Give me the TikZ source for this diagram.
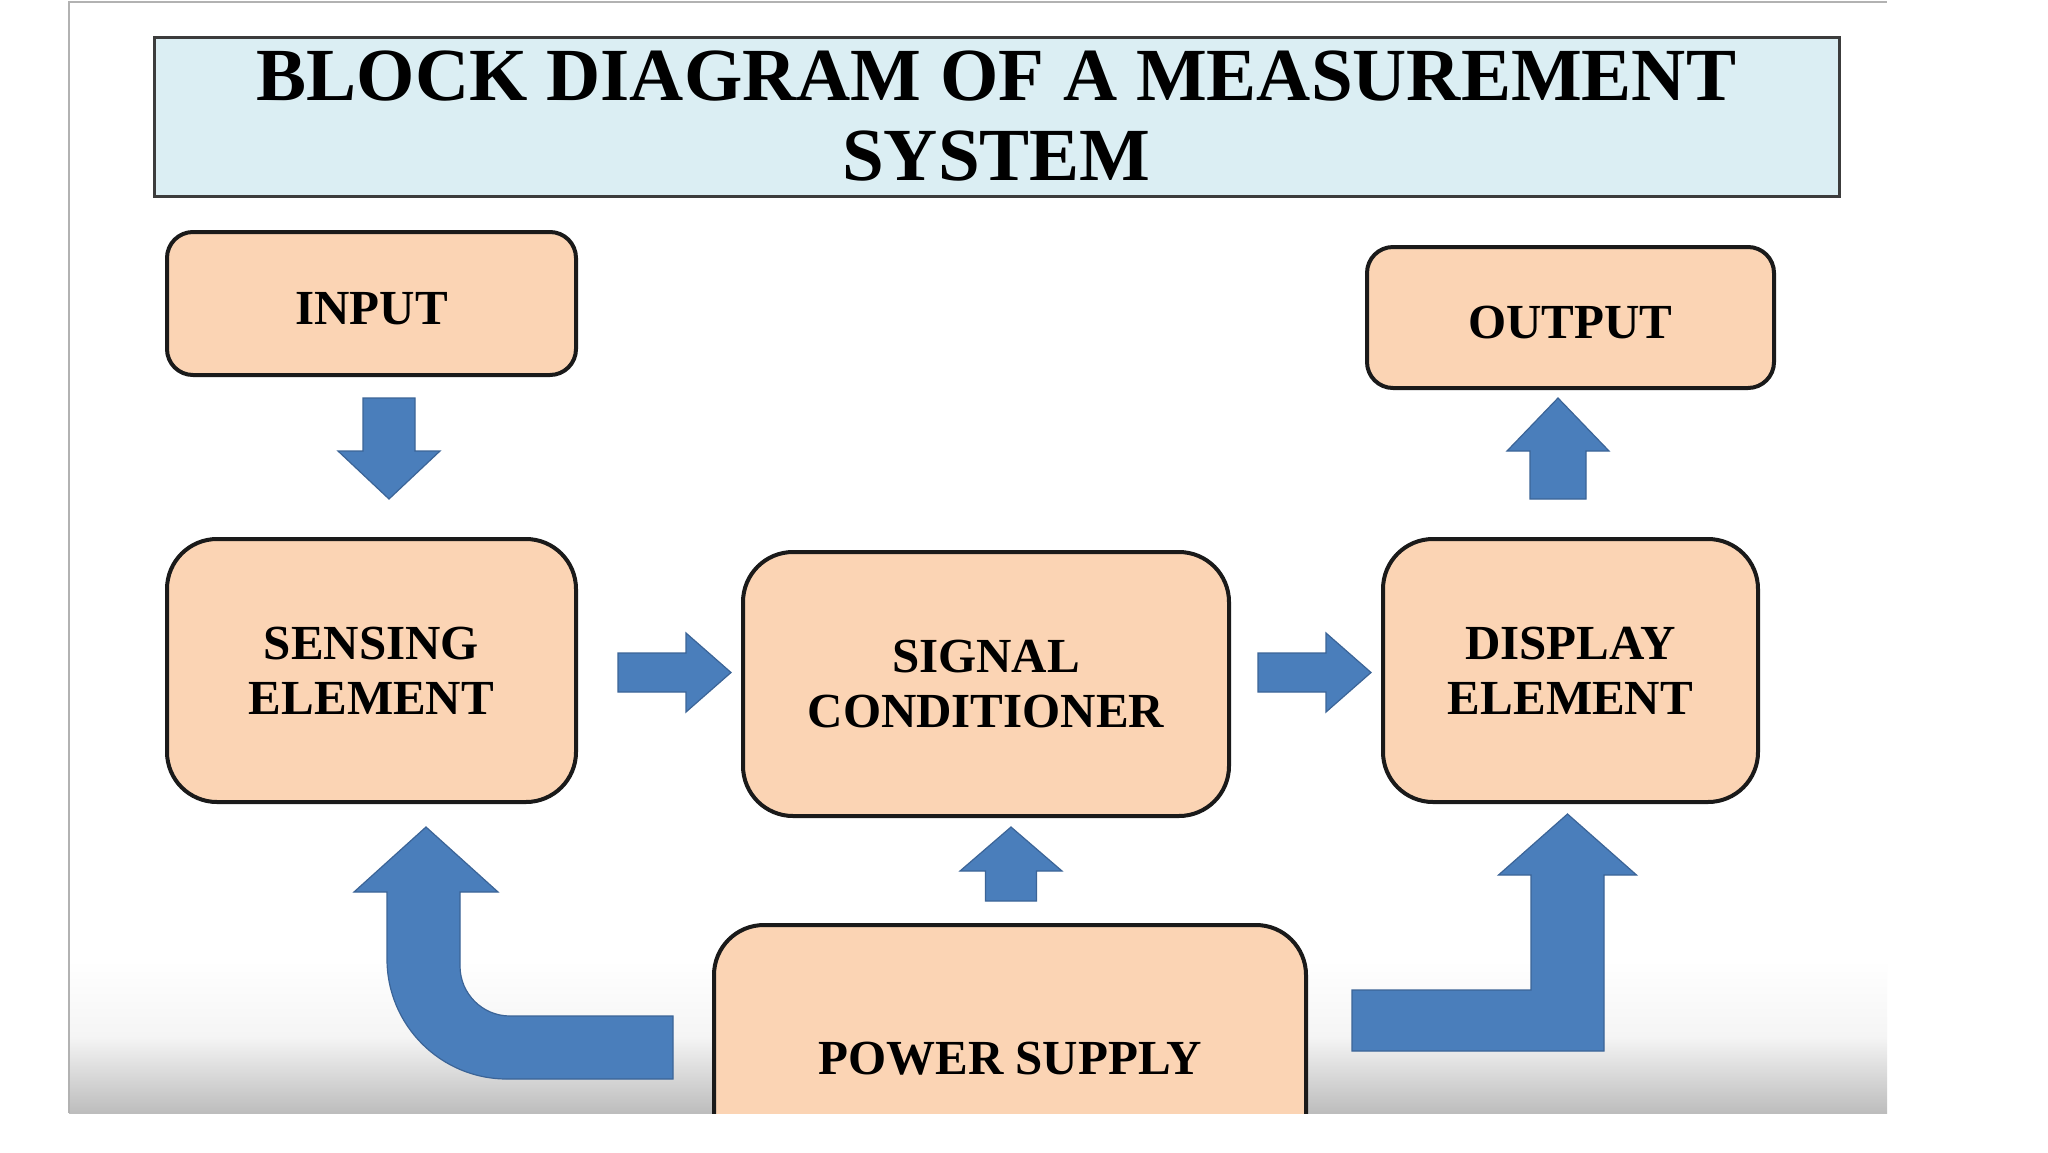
\documentclass[tikz,border=0pt]{standalone}
\usepackage{fontspec}
\setmainfont{Liberation Serif}
\usetikzlibrary{calc}
\definecolor{peach}{HTML}{FBD4B4}
\definecolor{titlebg}{HTML}{DBEEF3}
\definecolor{titleedge}{HTML}{3C3C3C}
\definecolor{arrowblue}{HTML}{4A7EBB}
\definecolor{arrowedge}{HTML}{3B6497}
\definecolor{boxedge}{HTML}{1A1A1A}
% vertical block arrow: #1 start, #2 tip, #3 shaft half width, #4 head half width, #5 signed head length
\newcommand\varrow[5]{\draw[barrow] ($(#1)+(-#3,0)$) -- ($(#1)+(#3,0)$) -- ($(#2)+(#3,#5)$) -- ($(#2)+(#4,#5)$) -- (#2) -- ($(#2)+(-#4,#5)$) -- ($(#2)+(-#3,#5)$) -- cycle;}
% horizontal block arrow
\newcommand\harrow[5]{\draw[barrow] ($(#1)+(0,-#3)$) -- ($(#1)+(0,#3)$) -- ($(#2)+(#5,#3)$) -- ($(#2)+(#5,#4)$) -- (#2) -- ($(#2)+(#5,-#4)$) -- ($(#2)+(#5,-#3)$) -- cycle;}
\begin{document}
\begin{tikzpicture}[x=1pt,y=-1pt,
  block/.style={draw=boxedge, line width=4pt, fill=peach, rounded corners=50pt,
    align=center, font=\fontsize{49}{55}\selectfont\bfseries, text=black,
    inner sep=0pt, outer sep=0pt},
  smallblock/.style={block, rounded corners=26pt},
  barrow/.style={fill=arrowblue, draw=arrowedge, line width=1.2pt, line join=miter}]
\useasboundingbox (0,0) rectangle (2048,1152);
\fill[white] (0,0) rectangle (2048,1152);
\shade[top color=white, bottom color=gray!52, middle color=gray!8] (69,960) rectangle (1887,1113);
\draw[gray!60, line width=2pt] (69,1113) -- (69,2) -- (1887,2);

\node[draw=titleedge, fill=titlebg, line width=3pt, minimum width=1685pt, minimum height=159pt,
  inner sep=0pt, outer sep=0pt, align=center, font=\fontsize{75}{80}\selectfont\bfseries]
  (title) at (996.5,116.5) {BLOCK DIAGRAM OF A MEASUREMENT\\SYSTEM};

\node[smallblock, minimum width=409pt, minimum height=143pt] (input) at (371.5,303.5) {\raisebox{-5pt}[\height][\depth]{INPUT}};
\node[block, minimum width=409pt, minimum height=263pt] (sense) at (371.5,670.5) {SENSING\\ELEMENT};
\node[block, minimum width=486pt, minimum height=264pt] (sig) at (986,684) {SIGNAL\\CONDITIONER};
\node[block, minimum width=375pt, minimum height=263pt] (disp) at (1570.5,670.5) {DISPLAY\\ELEMENT};
\node[smallblock, minimum width=407pt, minimum height=141pt] (output) at (1570.5,317.5) {\raisebox{-5pt}[\height][\depth]{OUTPUT}};

\begin{scope}
\clip (69,0) rectangle (1887,1113);
\node[block, minimum width=592pt, minimum height=268pt] (psu) at (1010,1059) {POWER SUPPLY};

% left L-shaped arrow: power supply -> sensing element
\coordinate (Ltip) at ($(sense.south)+(54.5,25)$);
\coordinate (Lstart) at ($(psu.west)+(-41,-11.5)$);
\coordinate (LC) at (Ltip |- Lstart);
\draw[barrow] (Ltip) -- ($(Ltip)+(72,65)$) -- ($(Ltip)+(34,65)$) -- ($(LC)+(34,-81.5)$)
  .. controls ($(LC)+(34,-53.9)$) and ($(LC)+(56.4,-31.5)$) .. ($(LC)+(84,-31.5)$)
  -- ($(Lstart)+(0,-31.5)$) -- ($(Lstart)+(0,31.5)$) -- ($(LC)+(81,31.5)$)
  .. controls ($(LC)+(14.7,31.5)$) and ($(LC)+(-39,-22.2)$) .. ($(LC)+(-39,-88.5)$)
  -- ($(Ltip)+(-39,65)$) -- ($(Ltip)+(-72,65)$) -- cycle;

% right L-shaped arrow: power supply -> display element
\coordinate (Rtip) at ($(disp.south)+(-3,12)$);
\coordinate (Rstart) at ($(psu.east)+(46,-38.5)$);
\coordinate (RC) at (Rtip |- Rstart);
\draw[barrow] (Rtip) -- ($(Rtip)+(69,61)$) -- ($(Rtip)+(36.5,61)$) -- ($(RC)+(36.5,30.5)$)
  -- ($(Rstart)+(0,30.5)$) -- ($(Rstart)+(0,-30.5)$) -- ($(RC)+(-36.5,-30.5)$)
  -- ($(Rtip)+(-36.5,61)$) -- ($(Rtip)+(-69,61)$) -- cycle;
\end{scope}

% straight arrows
\coordinate (a1s) at ($(input.south)+(17.5,23)$);
\coordinate (a1e) at ($(sense.north)+(17.5,-40)$);
\varrow{a1s}{a1e}{26}{51}{-48}
\coordinate (a2s) at ($(sense.east)+(42,2)$);
\coordinate (a2e) at ($(sig.west)+(-12,-11.5)$);
\harrow{a2s}{a2e}{19.5}{39.5}{-45}
\coordinate (a3s) at ($(sig.east)+(29,-11.5)$);
\coordinate (a3e) at ($(disp.west)+(-12,2)$);
\harrow{a3s}{a3e}{19.5}{39.5}{-45}
\coordinate (a4s) at ($(disp.north)+(-12.5,-40)$);
\coordinate (a4e) at ($(output.south)+(-12.5,10)$);
\varrow{a4s}{a4e}{28}{51}{53}
\coordinate (a5s) at ($(psu.north)+(1,-24)$);
\coordinate (a5e) at ($(sig.south)+(25,11)$);
\varrow{a5s}{a5e}{25.5}{51}{44}
\end{tikzpicture}
\end{document}
